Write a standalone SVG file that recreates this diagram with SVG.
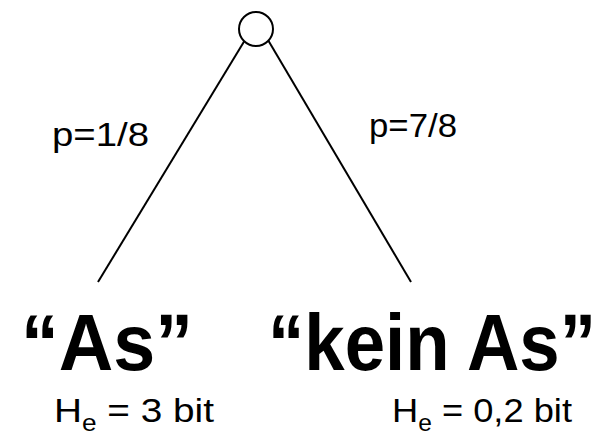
<svg xmlns="http://www.w3.org/2000/svg" width="603" height="434" viewBox="0 0 603 434">
<style>
.edge{stroke:#000;stroke-width:2;fill:none}
.node{stroke:#000;stroke-width:2;fill:#fff}
.p{font-family:"Liberation Sans",Arial,sans-serif;font-size:34px;fill:#000}
.big{font-family:"Liberation Sans",Arial,sans-serif;font-size:80px;font-weight:bold;fill:#000}
.h{font-family:"Liberation Sans",Arial,sans-serif;font-size:34px;fill:#000}
</style>
<rect width="603" height="434" fill="#fff"/>
<g id="connectors">
<line class="edge" x1="245" y1="40" x2="98" y2="282"/>
<line class="edge" x1="268" y1="40" x2="411" y2="282"/>
</g>
<g id="root"><circle class="node" cx="256" cy="29" r="17"/></g>
<g id="label-left"><text class="p" x="52" y="146" textLength="97" lengthAdjust="spacingAndGlyphs">p=1/8</text></g>
<g id="label-right"><text class="p" x="369" y="137" textLength="88" lengthAdjust="spacingAndGlyphs">p=7/8</text></g>
<g id="node-as"><text class="big" x="21" y="370" textLength="172" lengthAdjust="spacingAndGlyphs">“As”</text>
<text class="h" x="54" y="422" textLength="160" lengthAdjust="spacingAndGlyphs">H<tspan font-size="23" dy="9">e</tspan><tspan dy="-9"> = 3 bit</tspan></text></g>
<g id="node-keinas"><text class="big" x="268" y="370" textLength="328" lengthAdjust="spacingAndGlyphs">“kein As”</text>
<text class="h" x="392" y="422" textLength="180" lengthAdjust="spacingAndGlyphs">H<tspan font-size="23" dy="9">e</tspan><tspan dy="-9"> = 0,2 bit</tspan></text></g>
</svg>
